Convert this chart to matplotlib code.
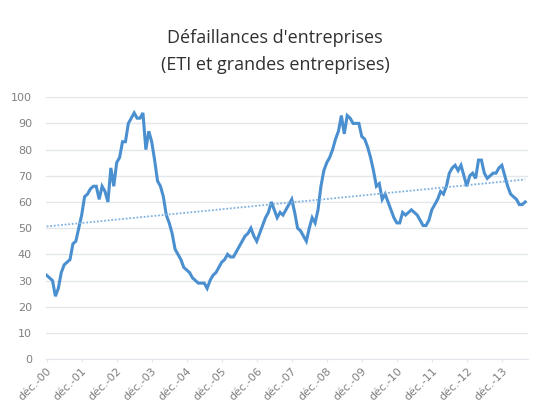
import matplotlib.pyplot as plt
import numpy as np

# monthly series, déc. 2000 -> août 2014
values = [
    32, 31, 30, 24, 27, 33, 36, 37, 38, 44, 45, 50,
    55, 62, 63, 65, 66, 66, 61, 66, 64, 60, 73, 66,
    75, 77, 83, 83, 90, 92, 94, 92, 92, 94, 80, 87,
    83, 76, 68, 66, 62, 55, 52, 48, 42, 40, 38, 35,
    34, 33, 31, 30, 29, 29, 29, 27, 30, 32, 33, 35,
    37, 38, 40, 39, 39, 41, 43, 45, 47, 48, 50, 47,
    45, 48, 51, 54, 56, 60, 57, 54, 56, 55, 57, 59,
    61, 56, 50, 49, 47, 45, 50, 54, 52, 57, 66, 72,
    75, 77, 80, 84, 87, 93, 86, 93, 92, 90, 90, 90,
    85, 84, 81, 77, 72, 66, 67, 61, 63, 60, 57, 54,
    52, 52, 56, 55, 56, 57, 56, 55, 53, 51, 51, 53,
    57, 59, 61, 64, 63, 66, 71, 73, 74, 72, 74, 70,
    66, 70, 71, 69, 76, 76, 71, 69, 70, 71, 71, 73,
    74, 70, 66, 63, 62, 61, 59, 59, 60,
]
tick_labels = ["déc.-%02d" % y for y in range(0, 14)]

months = np.arange(len(values))
blue = "#4a8fcf"
grey = "#808080"

fig = plt.figure(figsize=(5.45, 4.19), dpi=100)
ax = fig.add_axes([0.084, 0.143, 0.885, 0.625])

ax.plot(months, values, color=blue, lw=2.2, solid_joinstyle="miter")

# linear trend line (Excel style)
a, b = np.polyfit(months, values, 1)
ax.plot(months, a * months + b, color="#7fb2e0", lw=1.3, ls=(0, (1, 1)))

ax.set_ylim(0, 100)
ax.set_yticks(range(0, 101, 10))
ax.set_xlim(-0.3, 165)
ax.set_xticks(range(0, 157, 12))
ax.set_xticklabels(tick_labels, rotation=45, ha="right", rotation_mode="anchor")

ax.grid(axis="y", color="#e3e6ea", lw=1.0)
ax.set_axisbelow(True)
for s in ["top", "right", "left"]:
    ax.spines[s].set_visible(False)
ax.spines["bottom"].set_color("#e3e6ea")
ax.tick_params(axis="y", length=0, pad=10, labelsize=8, labelcolor=grey)
ax.tick_params(axis="x", length=2, color="#dfe6ee", pad=3, labelsize=8, labelcolor=grey)

fig.text(0.505, 0.91, "Défaillances d'entreprises", ha="center", va="center",
         fontsize=13, color="#303030", family="Open Sans")
fig.text(0.505, 0.845, "(ETI et grandes entreprises)", ha="center", va="center",
         fontsize=13, color="#303030", family="Open Sans")

fig.savefig("out.png", dpi=100)
